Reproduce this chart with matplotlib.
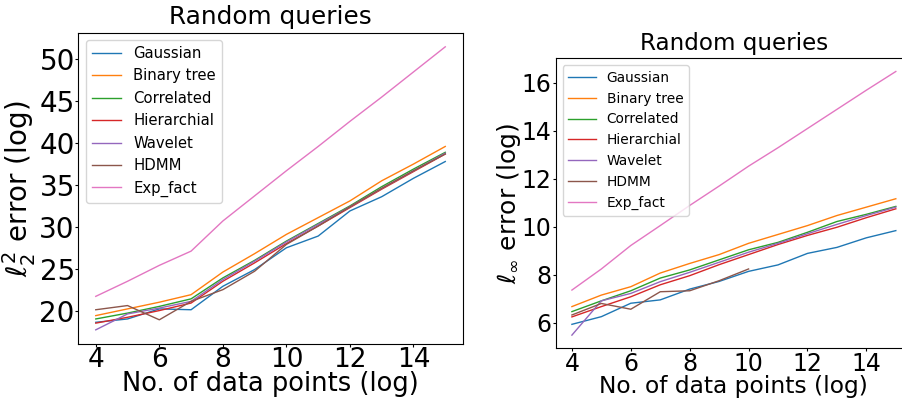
import numpy as np
import matplotlib
matplotlib.use("Agg")
import matplotlib.pyplot as plt

# x axis: number of data points (log)
x = list(range(4, 16))
x_hdmm_inf = list(range(4, 11))

names = ["Gaussian", "Binary tree", "Correlated", "Hierarchial", "Wavelet", "HDMM", "Exp_fact"]

# l2^2 error (log)
l2_gaussian = [18.6, 19.0, 20.2, 20.1, 22.9, 24.9, 27.5, 28.9, 31.9, 33.6, 35.8, 37.8]
l2_binary = [19.4, 20.2, 21.0, 21.9, 24.6, 26.8, 29.1, 31.1, 33.1, 35.5, 37.5, 39.6]
l2_correlated = [19.0, 19.7, 20.5, 21.4, 23.9, 26.0, 28.3, 30.4, 32.5, 34.8, 36.9, 38.9]
l2_hier = [18.5, 19.2, 20.0, 20.9, 23.5, 25.7, 28.0, 30.1, 32.3, 34.5, 36.6, 38.7]
l2_wavelet = [17.7, 19.6, 20.3, 21.1, 23.7, 25.9, 28.2, 30.3, 32.4, 34.6, 36.7, 38.8]
l2_hdmm = [20.1, 20.6, 18.9, 21.1, 22.5, 24.7, 27.9, 30.1, 32.4, 34.6, 36.7, 38.7]
l2_expfact = [21.7, 23.5, 25.4, 27.1, 30.7, 33.7, 36.7, 39.6, 42.6, 45.5, 48.5, 51.5]

# l_inf error (log)
inf_gaussian = [5.93, 6.25, 6.81, 6.95, 7.40, 7.72, 8.14, 8.41, 8.89, 9.14, 9.54, 9.84]
inf_binary = [6.67, 7.15, 7.50, 8.07, 8.47, 8.84, 9.31, 9.68, 10.05, 10.47, 10.82, 11.17]
inf_correlated = [6.46, 6.91, 7.33, 7.86, 8.20, 8.62, 9.04, 9.35, 9.77, 10.22, 10.52, 10.85]
inf_hier = [6.24, 6.67, 7.08, 7.58, 7.96, 8.42, 8.84, 9.26, 9.64, 9.98, 10.38, 10.75]
inf_wavelet = [5.48, 6.91, 7.22, 7.71, 8.10, 8.52, 8.94, 9.31, 9.71, 10.10, 10.47, 10.82]
inf_hdmm = [6.32, 6.80, 6.56, 7.29, 7.33, 7.75, 8.24]
inf_expfact = [7.36, 8.24, 9.22, 10.05, 10.89, 11.70, 12.53, 13.30, 14.10, 14.90, 15.70, 16.48]

fig = plt.figure(figsize=(9.02, 3.98), dpi=100)

# left panel
ax1 = fig.add_axes([0.0868, 0.1357, 0.4262, 0.7822])
left_series = [l2_gaussian, l2_binary, l2_correlated, l2_hier, l2_wavelet, l2_hdmm, l2_expfact]
for name, ys in zip(names, left_series):
    ax1.plot(x, ys, lw=1, label=name)
ax1.set_title("Random queries", fontsize=17.8)
ax1.set_xlabel("No. of data points (log)", fontsize=18.5, labelpad=-1.5)
ax1.set_ylabel(r"$\ell_2^2$ error (log)", fontsize=20, labelpad=1)
ax1.tick_params(axis="y", labelsize=20, length=2, pad=0.5)
ax1.tick_params(axis="x", labelsize=19, length=2, pad=0)
ax1.set_xticks([4, 6, 8, 10, 12, 14])
ax1.set_yticks([20, 25, 30, 35, 40, 45, 50])
ax1.legend(loc="upper left", fontsize=10.7)

# right panel (runs past the figure edge, as in the original)
ax2 = fig.add_axes([0.6161, 0.1249, 0.395, 0.7286])
right_series = [inf_gaussian, inf_binary, inf_correlated, inf_hier, inf_wavelet, inf_hdmm, inf_expfact]
for name, ys in zip(names, right_series):
    xs = x_hdmm_inf if name == "HDMM" else x
    ax2.plot(xs, ys, lw=1, label=name)
ax2.set_title("Random queries", fontsize=16.6)
ax2.set_xlabel("No. of data points (log)", fontsize=16.8, labelpad=-1)
ax2.set_ylabel(r"$\ell_\infty$ error (log)", fontsize=18, labelpad=-1)
ax2.tick_params(labelsize=17, length=2, pad=1)
ax2.set_xticks([4, 6, 8, 10, 12, 14])
ax2.set_yticks([6, 8, 10, 12, 14, 16])
ax2.legend(loc="upper left", fontsize=9.9)

fig.savefig("out.png", dpi=100)
